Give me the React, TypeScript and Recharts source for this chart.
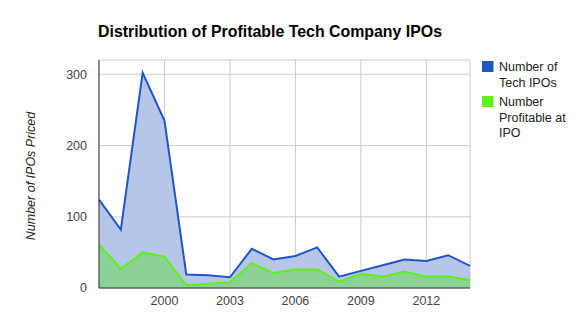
import React from "react";
import {
  AreaChart,
  Area,
  XAxis,
  YAxis,
  CartesianGrid,
} from "recharts";

const years = [
  1997, 1998, 1999, 2000, 2001, 2002, 2003, 2004, 2005,
  2006, 2007, 2008, 2009, 2010, 2011, 2012, 2013, 2014,
];
const techIpos = [124, 82, 302, 235, 19, 18, 15, 55, 40, 45, 57, 16, 24, 32, 40, 38, 46, 31];
const profitableIpos = [61, 27, 50, 44, 4, 6, 8, 35, 21, 26, 26, 9, 20, 16, 23, 16, 16, 11];
const xTicks = [2000, 2003, 2006, 2009, 2012];
const yTicks = [0, 100, 200, 300];

const data = years.map((year, i) => ({
  year,
  tech: techIpos[i],
  profitable: profitableIpos[i],
}));

const FONT = "Arial, 'Liberation Sans', sans-serif";

export default function App() {
  return (
    <div style={{ position: "relative", width: 587, height: 332, background: "#fff" }}>
      <style>{"body{margin:0}"}</style>

      <AreaChart
        width={587}
        height={332}
        data={data}
        margin={{ top: 60, right: 117, left: 0, bottom: 0 }}
      >
        <CartesianGrid stroke="#cccccc" strokeWidth={1} />

        <XAxis
          dataKey="year"
          type="number"
          domain={[1997, 2014]}
          ticks={xTicks}
          height={44}
          tickLine={false}
          axisLine={{ stroke: "#333", strokeWidth: 1 }}
          tick={{ fill: "#444", fontSize: 12.5, fontFamily: FONT }}
        />

        <YAxis
          type="number"
          domain={[0, 320]}
          ticks={yTicks}
          width={99}
          tickLine={false}
          tickMargin={6}
          axisLine={{ stroke: "#333", strokeWidth: 1 }}
          tick={{ fill: "#444", fontSize: 12.5, fontFamily: FONT }}
        />

        <Area
          type="linear"
          dataKey="tech"
          stroke="#2255c4"
          strokeWidth={2}
          fill="#b6c6e8"
          fillOpacity={1}
          dot={false}
          activeDot={false}
          isAnimationActive={false}
        />

        <Area
          type="linear"
          dataKey="profitable"
          stroke="#5ef01c"
          strokeWidth={2}
          fill="#8cd296"
          fillOpacity={1}
          dot={false}
          activeDot={false}
          isAnimationActive={false}
        />
      </AreaChart>

      {/* title, axis title and legend drawn on top */}
      <svg
        width={587}
        height={332}
        style={{ position: "absolute", left: 0, top: 0, pointerEvents: "none" }}
      >
        <text x={98} y={37} fontFamily={FONT} fontSize={15.9} fontWeight="bold" fill="#000">
          Distribution of Profitable Tech Company IPOs
        </text>

        <text
          x={0}
          y={0}
          transform="translate(35,176) rotate(-90)"
          textAnchor="middle"
          fontFamily={FONT}
          fontSize={12.5}
          fontStyle="italic"
          fill="#222"
        >
          Number of IPOs Priced
        </text>

        <rect x={482} y={61} width={11.5} height={11} fill="#2255c4" />
        <text fontFamily={FONT} fontSize={12.5} fill="#222">
          <tspan x={499} y={71}>Number of</tspan>
          <tspan x={499} y={87}>Tech IPOs</tspan>
        </text>

        <rect x={482} y={96} width={11.5} height={11} fill="#5ef01c" />
        <text fontFamily={FONT} fontSize={12.5} fill="#222">
          <tspan x={499} y={106}>Number</tspan>
          <tspan x={499} y={122}>Profitable at</tspan>
          <tspan x={499} y={137}>IPO</tspan>
        </text>
      </svg>
    </div>
  );
}
